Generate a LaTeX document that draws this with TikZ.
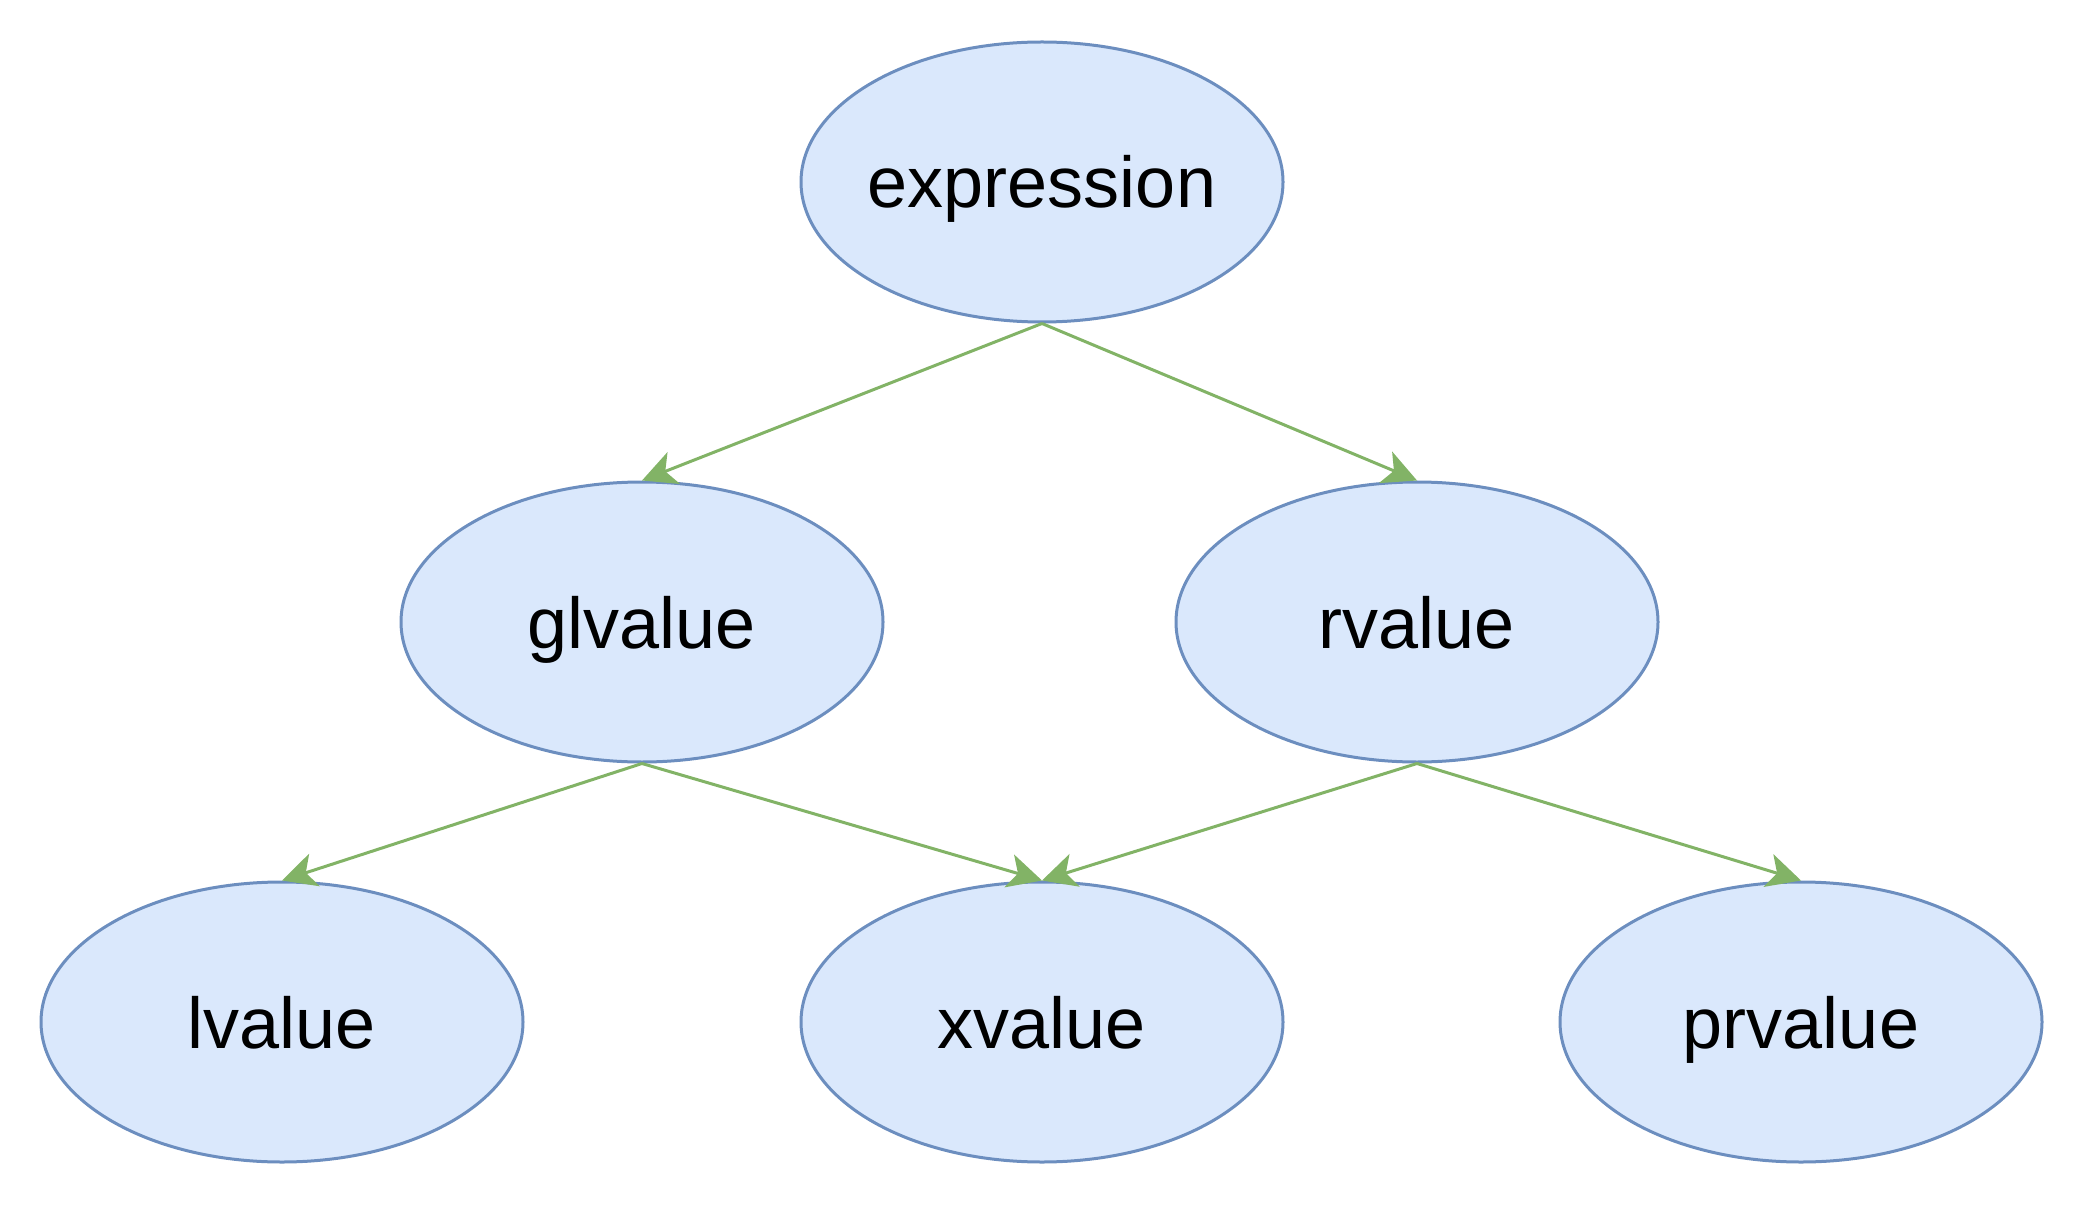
\documentclass[tikz,border=0pt]{standalone}
\usepackage{fontspec}
\setmainfont{Liberation Sans}
\usetikzlibrary{shapes.geometric,arrows.meta}
\definecolor{nodefill}{HTML}{DAE8FC}
\definecolor{nodestroke}{HTML}{6C8EBF}
\definecolor{edgegreen}{HTML}{82B366}
\tikzset{
  cat/.style={ellipse, draw=nodestroke, fill=nodefill, line width=1.5pt,
    minimum width=241pt, minimum height=140pt, inner sep=0pt,
    text height=26pt, text depth=0pt, font=\fontsize{36pt}{40pt}\selectfont},
  edge/.style={draw=edgegreen, line width=1.5pt,
    -{Stealth[length=17pt, width=17pt, inset=4.5pt, fill=edgegreen]}}
}
\newcommand{\lbl}[1]{\makebox[0pt]{#1}}
\begin{document}
\begin{tikzpicture}[x=0.5pt, y=-0.5pt]
\useasboundingbox (0,0) rectangle (2088,1208);
\node[cat] (expr) at (1042,182) {\lbl{expression}};
\node[cat] (gl) at (642,622) {\lbl{glvalue}};
\node[cat] (rv) at (1417,622) {\lbl{rvalue}};
\node[cat] (lv) at (282,1022) {\lbl{lvalue}};
\node[cat] (xv) at (1042,1022) {\lbl{xvalue}};
\node[cat] (pr) at (1801,1022) {\lbl{prvalue}};
\draw[edge] (expr.south) -- (gl.north);
\draw[edge] (expr.south) -- (rv.north);
\draw[edge] (gl.south) -- (lv.north);
\draw[edge] (gl.south) -- (xv.north);
\draw[edge] (rv.south) -- (xv.north);
\draw[edge] (rv.south) -- (pr.north);
\end{tikzpicture}
\end{document}
